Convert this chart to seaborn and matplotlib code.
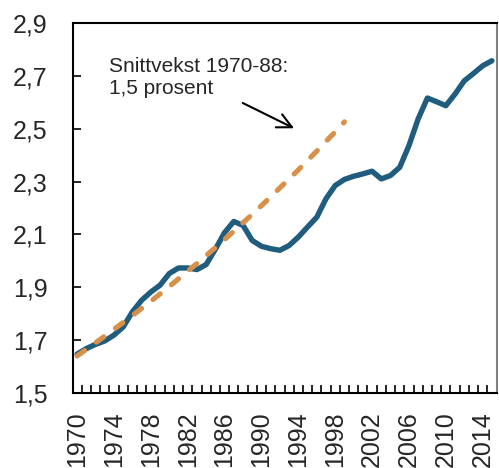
import matplotlib
matplotlib.use('Agg')
import matplotlib.pyplot as plt
import matplotlib.ticker as mticker
import seaborn as sns
import pandas as pd
import numpy as np

# Produktivitet (indeks), 1970-2015
years = list(range(1970, 2016))
productivity = [1.647, 1.668, 1.684, 1.697, 1.719, 1.750, 1.807, 1.851, 1.882, 1.908,
                1.952, 1.973, 1.973, 1.967, 1.986, 2.044, 2.107, 2.149, 2.134, 2.077,
                2.055, 2.046, 2.040, 2.058, 2.090, 2.128, 2.165, 2.235, 2.285, 2.308,
                2.320, 2.329, 2.339, 2.310, 2.323, 2.354, 2.436, 2.537, 2.616, 2.602,
                2.587, 2.631, 2.681, 2.709, 2.738, 2.757]

# Trendlinje, snittvekst 1970-88
trend_years = list(range(1970, 2000))
trend = [1.640, 1.665, 1.690, 1.715, 1.741, 1.767, 1.793, 1.820, 1.847, 1.875,
         1.903, 1.932, 1.961, 1.990, 2.020, 2.050, 2.081, 2.112, 2.144, 2.176,
         2.209, 2.242, 2.276, 2.310, 2.344, 2.380, 2.415, 2.452, 2.488, 2.526]

label_years = list(range(1970, 2016, 4))
y_ticks = [1.5, 1.7, 1.9, 2.1, 2.3, 2.5, 2.7, 2.9]

sns.set_style('white')
plt.rcParams['font.family'] = ['Liberation Sans', 'DejaVu Sans']

fig = plt.figure(figsize=(4.99, 4.68), dpi=100)
ax = fig.add_axes([0.1453, 0.1603, 0.8497, 0.7906])

blue = '#1F5C7D'
orange = '#D8914A'

sns.lineplot(x=years, y=productivity, color=blue, linewidth=3.9, ax=ax)
sns.lineplot(x=trend_years, y=trend, color=orange, linewidth=3.7, ax=ax)
dash_line = ax.lines[-1]
dash_line.set_dashes((1.8, 2.8))
dash_line.set_dash_capstyle('round')
ax.lines[0].set_solid_capstyle('round')
ax.lines[0].set_solid_joinstyle('round')

ax.set_xlim(1969.5, 2015.5)
ax.set_ylim(1.5, 2.9)

ax.set_xticks(label_years)
ax.set_xticklabels([str(y) for y in label_years], rotation=90)
ax.xaxis.set_minor_locator(mticker.FixedLocator(np.arange(1969.5, 2016, 1)))
ax.tick_params(axis='x', which='major', length=0, pad=13, labelsize=18)
ax.tick_params(axis='x', which='minor', direction='in', length=6, width=1.2,
               color='black', bottom=True)

ax.set_yticks(y_ticks)
ax.yaxis.set_major_formatter(mticker.FuncFormatter(lambda v, p: f'{v:.1f}'.replace('.', ',')))
ax.tick_params(axis='y', direction='in', length=6, width=1.2, color='black',
               left=True, pad=18, labelsize=18)

for side in ['left', 'bottom', 'top']:
    ax.spines[side].set_color('black')
    ax.spines[side].set_linewidth(1.5)
ax.spines['right'].set_color('#808080')
ax.spines['right'].set_linewidth(1.5)

ax.text(1973.5, 2.77, 'Snittvekst 1970-88:\n1,5 prosent', fontsize=15,
        ha='left', va='top', linespacing=1.2)
ax.annotate('', xy=(1993.8, 2.497), xytext=(1987.7, 2.602),
            arrowprops=dict(arrowstyle='->', color='black', lw=1.5,
                            mutation_scale=26))

ax.set_xlabel('')
ax.set_ylabel('')

fig.savefig('out.png', dpi=100)
plt.close(fig)
